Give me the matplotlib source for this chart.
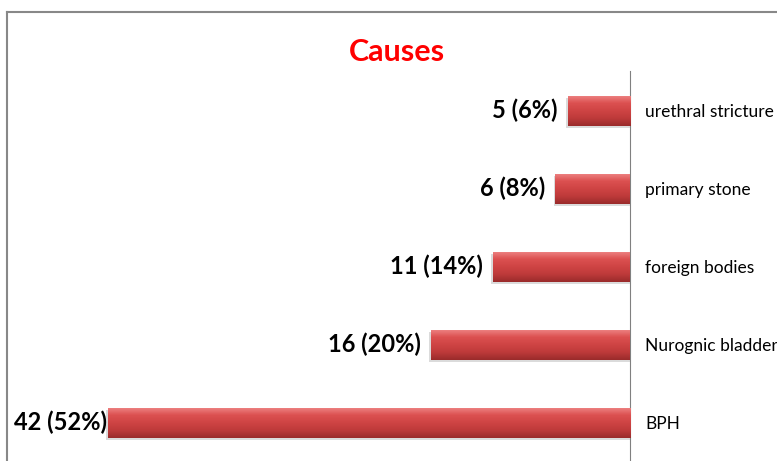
import matplotlib.pyplot as plt
import numpy as np
from matplotlib.patches import Rectangle
from matplotlib.lines import Line2D
from matplotlib.colors import LinearSegmentedColormap

causes = ['BPH', 'Nurognic bladder', 'foreign bodies', 'primary stone', 'urethral stricture']
counts = [42, 16, 11, 6, 5]
percents = [52, 20, 14, 8, 6]

plt.rcParams['font.family'] = ['Lato', 'DejaVu Sans']

fig = plt.figure(figsize=(7.77, 4.61), dpi=100)
W, H = 777, 461
ax = fig.add_axes([6 / W, 0, (630 - 6) / W, (461 - 71) / H])

ypos = np.arange(len(causes))
bar_h = 0.39
bars = ax.barh(ypos, counts, height=bar_h, color='#C83C3C', edgecolor='none', zorder=2)

# gradient shading on each bar, top light -> bottom dark
cmap = LinearSegmentedColormap.from_list('bar', ['#9A2B2B', '#BE3A3A', '#CF4444', '#DC5151', '#EE8585'])
grad = np.linspace(0, 1, 64).reshape(-1, 1)
for b in bars:
    x0, y0 = b.get_x(), b.get_y()
    w, h = b.get_width(), b.get_height()
    # soft shadow
    ax.add_patch(Rectangle((x0, y0 - 0.03), w + 0.15, h, facecolor='#999999', alpha=0.35,
                           edgecolor='none', zorder=1))
    im = ax.imshow(grad, cmap=cmap, aspect='auto', origin='lower',
                   extent=(x0, x0 + w, y0, y0 + h), zorder=3)
    im.set_clip_path(b)

for y, c, p in zip(ypos, counts, percents):
    off = 0.1 if c == max(counts) else 0.85  # biggest label is squeezed against the frame
    ax.text(c + off, y, f'{c} ({p}%)', ha='right', va='center', fontsize=17,
            fontweight='bold', color='black')

ax.set_xlim(50.2, 0)
ax.set_ylim(-0.49, 4.51)
ax.yaxis.tick_right()
ax.set_yticks(ypos)
ax.set_yticklabels(causes, fontsize=12.5)
ax.tick_params(axis='y', length=0, pad=11)
ax.set_xticks([])
for s in ['top', 'left', 'bottom']:
    ax.spines[s].set_visible(False)
ax.spines['right'].set_color('#808080')
ax.spines['right'].set_linewidth(0.8)
ax.patch.set_visible(False)

fig.text(397 / W, 1 - 52 / H, 'Causes', ha='center', va='center', fontsize=22,
         fontweight='bold', color='#FF0000')

# outer chart frame (top and left edges visible)
ft = 1 - 12.5 / H
fl = 6.5 / W
fig.add_artist(Line2D([fl, fl], [0, ft], transform=fig.transFigure, color='#888888', lw=1.5))
fig.add_artist(Line2D([fl, 1], [ft, ft], transform=fig.transFigure, color='#888888', lw=1.5))

fig.savefig('out.png', dpi=100)
